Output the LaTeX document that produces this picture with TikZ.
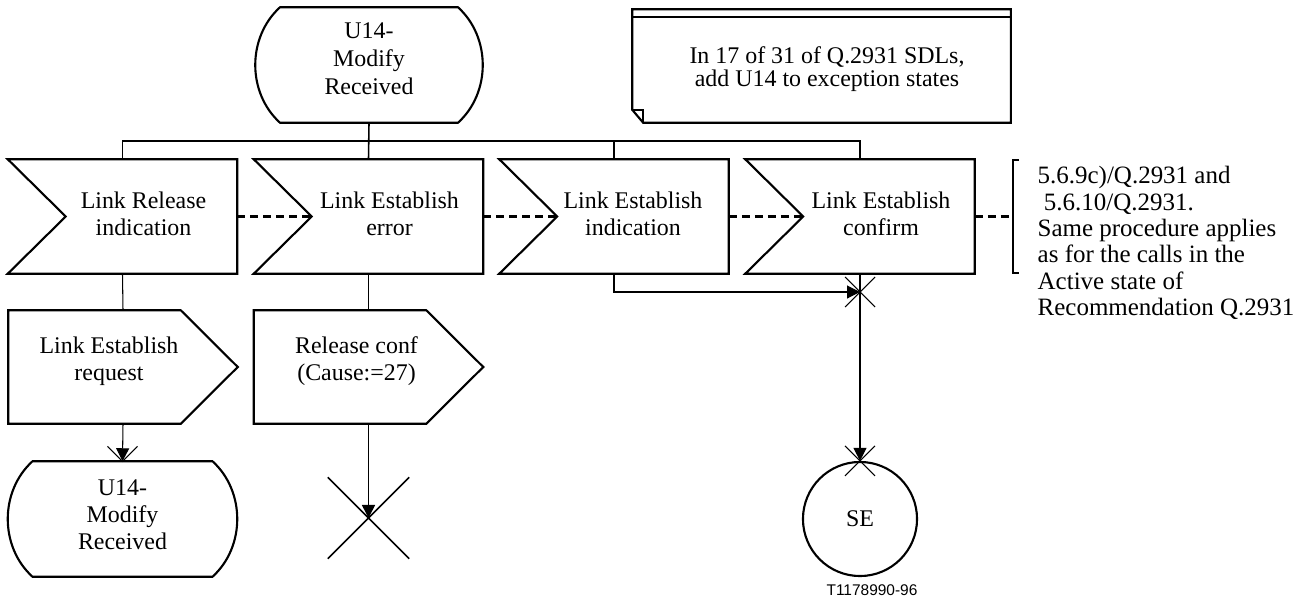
\documentclass[tikz,border=0pt]{standalone}
\usepackage{fontspec}
\setmainfont{Liberation Serif}
\newfontfamily\labelfont{Liberation Sans}
\usetikzlibrary{arrows.meta,calc}
\begin{document}
\begin{tikzpicture}[x=0.01cm,y=-0.01cm,
  box/.style={draw=none,inner sep=0,minimum width=2.28cm,minimum height=1.13cm},
  txt/.style={font=\fontsize{6.8pt}{7.6pt}\selectfont,align=center,inner sep=0},
  outl/.style={line width=0.6pt,line join=miter},
  conn/.style={line width=0.45pt},
  bus/.style={line width=0.3pt},
  thinx/.style={line width=0.3pt},
  dashline/.style={line width=0.8pt,dash pattern=on 0.08cm off 0.05cm},
  arr/.style={-{Triangle[length=0.13cm,width=0.13cm]}},
]
\useasboundingbox (0,0) rectangle (1297,600);

% top state
\node[box,minimum height=1.14cm] (s0) at (369,65) {};
\draw[outl] ($(s0.north)+(-89,0)$) -- ($(s0.north)+(89,0)$)
  .. controls ($(s0.north)+(122,30)$) and ($(s0.south)+(122,-30)$) .. ($(s0.south)+(89,0)$)
  -- ($(s0.south)+(-89,0)$)
  .. controls ($(s0.south)+(-122,-30)$) and ($(s0.north)+(-122,30)$) .. cycle;
\node[txt,font=\fontsize{6.8pt}{8pt}\selectfont] (s0t) at ($(s0.center)+(0,-6)$) {U14-\\Modify\\Received};

% comment box
\node[draw=none,inner sep=0,minimum width=3.77cm,minimum height=1.12cm] (cbox) at (821.5,66) {};
\draw[outl] (cbox.north west) -- (cbox.north east) -- (cbox.south east) -- ($(cbox.south west)+(11,0)$) -- ($(cbox.south west)+(0,-13)$) -- cycle;
\draw[outl] ($(cbox.south west)+(0,-13)$) -- ($(cbox.south west)+(11,-13)$) -- ($(cbox.south west)+(11,0)$);
\draw[outl] ($(cbox.north west)+(0,8)$) -- ($(cbox.north east)+(0,8)$);
\node[txt,font=\fontsize{6.8pt}{6.6pt}\selectfont] (cmt) at (827,69) {In 17 of 31 of Q.2931 SDLs,\\add U14 to exception states};

% inputs
\node[box] (in1) at (122.5,216.5) {};
\node[box] (in2) at (368.5,216.5) {};
\node[box] (in3) at (614,216.5) {};
\node[box] (in4) at (860,216.5) {};
\foreach \n in {in1,in2,in3,in4}{
  \draw[outl] (\n.north west) -- (\n.north east) -- (\n.south east) -- (\n.south west) -- ($(\n.west)+(58,0)$) -- cycle;
}
\node[txt] (in1t) at ($(in1.center)+(21,-3)$) {Link Release\\indication};
\node[txt] (in2t) at ($(in2.center)+(21,-3)$) {Link Establish\\error};
\node[txt] (in3t) at ($(in3.center)+(19,-3)$) {Link Establish\\indication};
\node[txt] (in4t) at ($(in4.center)+(21,-3)$) {Link Establish\\confirm};

% outputs
\node[box,minimum height=1.12cm] (out1) at (123,367) {};
\node[box,minimum height=1.12cm] (out2) at (368.5,367) {};
\foreach \n in {out1,out2}{
  \draw[outl] (\n.north west) -- ($(\n.north east)+(-57,0)$) -- (\n.east) -- ($(\n.south east)+(-57,0)$) -- (\n.south west) -- cycle;
}
\node[txt] (out1t) at ($(out1.center)+(-14,-6)$) {Link Establish\\request};
\node[txt] (out2t) at ($(out2.center)+(-12,-6)$) {Release conf\\(Cause:=27)};

% bottom state
\node[box,minimum height=1.14cm] (s1) at (122.5,519) {};
\draw[outl] ($(s1.north)+(-90,0)$) -- ($(s1.north)+(90,0)$)
  .. controls ($(s1.north)+(123,30)$) and ($(s1.south)+(123,-30)$) .. ($(s1.south)+(90,0)$)
  -- ($(s1.south)+(-90,0)$)
  .. controls ($(s1.south)+(-123,-30)$) and ($(s1.north)+(-123,30)$) .. cycle;
\node[txt,font=\fontsize{6.8pt}{7.7pt}\selectfont] (s1t) at ($(s1.center)+(0,-4)$) {U14-\\Modify\\Received};

% terminator
\node[draw=none,inner sep=0,minimum size=0.8cm] (term) at (368.5,518) {};
\draw[conn] (term.north west) -- (term.south east) (term.north east) -- (term.south west);

% SE connector
\node[circle,draw,line width=0.6pt,minimum size=1.14cm,inner sep=0,font=\fontsize{6.8pt}{7.6pt}\selectfont] (se) at (860,519) {SE};

% junction
\coordinate (junc) at (860,292);

% bus
\coordinate (bj) at (369,141);
\draw[conn] (s0.south) -- (in2.north);
\draw[bus] (in1.north) |- (bj) -| (in4.north);
\draw[bus] (in3.north) |- (bj);

% connectors
\draw[bus] (in1.south) -- (out1.north);
\draw[conn] (in2.south) -- (out2.north);
\draw[bus,arr] (out1.south) -- (s1.north);
\draw[thinx] ($(s1.north)+(-15,-15)$) -- (s1.north) -- ($(s1.north)+(15,-15)$);
\draw[conn,arr] (out2.south) -- (term.center);
\draw[bus,arr] (in3.south) |- (junc);
\draw[bus] (in4.south) -- (junc);
\draw[bus,arr] (junc) -- (se.north);
\draw[thinx] ($(junc)+(-15,-15)$) -- ($(junc)+(15,15)$) ($(junc)+(15,-15)$) -- ($(junc)+(-15,15)$);
\draw[thinx] ($(se.north)+(-15,-15)$) -- ($(se.north)+(15,15)$) ($(se.north)+(15,-15)$) -- ($(se.north)+(-15,15)$);

% dashed associations
\coordinate (brk) at (1013,216.5);
\draw[dashline] (in1.east) -- ($(in2.west)+(58,0)$);
\draw[dashline] (in2.east) -- ($(in3.west)+(58,0)$);
\draw[dashline] (in3.east) -- ($(in4.west)+(58,0)$);
\draw[dashline] (in4.east) -- (brk);

% bracket comment
\draw[line width=0.7pt] (1019,160) -- (1013,160) -- (1013,273) -- (1019,273);
\node[anchor=west,align=left,inner sep=0,font=\fontsize{7.1pt}{7.5pt}\selectfont] (note) at (1037,243)
  {5.6.9c)/Q.2931 and\\\ 5.6.10/Q.2931.\\Same procedure applies\\as for the calls in the\\Active state of\\Recommendation Q.2931};

% figure id
\node[inner sep=0,font=\labelfont\fontsize{4.4pt}{5pt}\selectfont,anchor=base] (fid) at (872,595) {T1178990-96};
\end{tikzpicture}
\end{document}
